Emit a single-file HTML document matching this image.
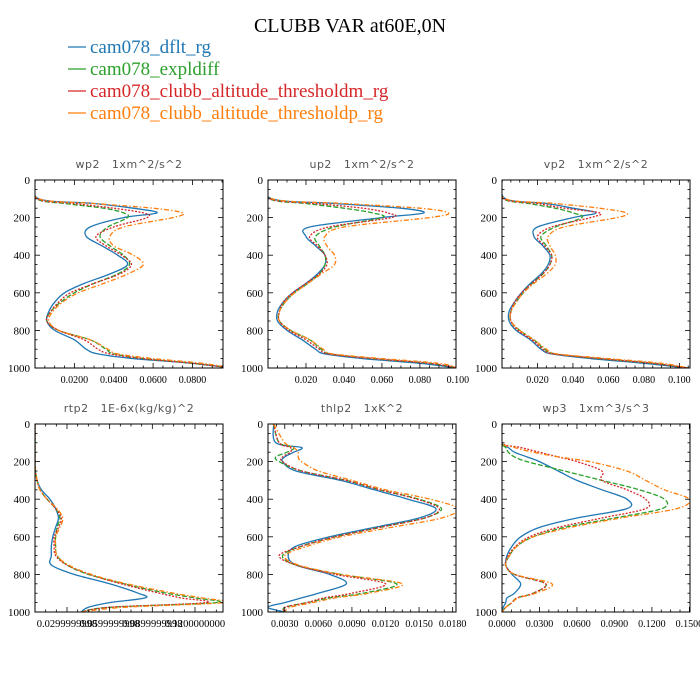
<!DOCTYPE html>
<html><head><meta charset="utf-8"><style>
body{margin:0;background:#fff;}
svg{display:block;}
.pt{white-space:pre;}
</style></head><body>
<svg id="c" width="700" height="700" viewBox="0 0 700 700" xmlns="http://www.w3.org/2000/svg">
<text x="350" y="32" text-anchor="middle" font-family="Liberation Serif, serif" font-size="20">CLUBB VAR at60E,0N</text>
<g id="legend"></g>
<g id="panels"></g>
</svg>
<script>
const seriesNames = ["cam078_dflt_rg","cam078_expldiff","cam078_clubb_altitude_thresholdm_rg","cam078_clubb_altitude_thresholdp_rg"];
const levels = [0,100,125,150,175,200,250,300,350,400,450,500,550,600,650,700,750,800,850,900,925,950,975,1000];
const yTicks = [0,200,400,600,800,1000];

const wp2Blue = [0,0.002,0.03,0.05,0.062,0.045,0.028,0.026,0.034,0.042,0.047,0.038,0.025,0.015,0.01,0.007,0.006,0.01,0.02,0.026,0.032,0.05,0.08,0.1];
const wp2Green = [0,0.001,0.015,0.035,0.045,0.047,0.037,0.033,0.038,0.045,0.048,0.042,0.03,0.02,0.013,0.008,0.006,0.012,0.028,0.036,0.04,0.055,0.08,0.1];
const wp2Red = [0,0.001,0.02,0.04,0.055,0.057,0.04,0.031,0.036,0.044,0.049,0.043,0.03,0.018,0.012,0.008,0.006,0.012,0.025,0.032,0.038,0.055,0.08,0.1];
const wp2Orange = [0,0.002,0.03,0.06,0.075,0.07,0.045,0.038,0.04,0.05,0.055,0.047,0.035,0.022,0.014,0.009,0.007,0.012,0.028,0.037,0.042,0.06,0.085,0.1];

const up2Blue = [0,0.002,0.035,0.07,0.082,0.06,0.022,0.02,0.025,0.03,0.03,0.026,0.02,0.013,0.008,0.005,0.005,0.01,0.018,0.025,0.03,0.05,0.08,0.1];
const up2Green = [0,0.001,0.02,0.04,0.055,0.06,0.035,0.025,0.027,0.03,0.03,0.027,0.021,0.014,0.009,0.006,0.006,0.012,0.022,0.028,0.033,0.055,0.085,0.1];
const up2Red = [0,0.001,0.025,0.05,0.063,0.065,0.032,0.022,0.026,0.03,0.031,0.027,0.02,0.013,0.008,0.006,0.006,0.011,0.02,0.027,0.032,0.055,0.085,0.1];
const up2Orange = [0,0.002,0.04,0.08,0.095,0.085,0.04,0.03,0.031,0.035,0.035,0.028,0.021,0.014,0.009,0.006,0.006,0.012,0.022,0.029,0.034,0.06,0.09,0.1];

const vp2Blue = [0,0.002,0.025,0.04,0.053,0.04,0.02,0.018,0.023,0.027,0.026,0.022,0.016,0.011,0.007,0.004,0.004,0.008,0.016,0.022,0.028,0.05,0.08,0.105];
const vp2Green = [0,0.001,0.015,0.03,0.04,0.045,0.03,0.022,0.025,0.028,0.027,0.023,0.017,0.012,0.008,0.005,0.005,0.01,0.018,0.024,0.03,0.055,0.085,0.105];
const vp2Red = [0,0.001,0.02,0.035,0.055,0.05,0.028,0.02,0.024,0.028,0.027,0.023,0.017,0.011,0.007,0.005,0.005,0.009,0.017,0.023,0.029,0.055,0.085,0.105];
const vp2Orange = [0,0.002,0.03,0.055,0.07,0.065,0.035,0.026,0.027,0.03,0.03,0.025,0.018,0.012,0.008,0.005,0.005,0.01,0.018,0.025,0.031,0.06,0.09,0.105];

const rtp2Blue = [0.0075,0.0075,0.0075,0.0075,0.0075,0.0075,0.0078,0.009,0.012,0.018,0.022,0.024,0.022,0.02,0.019,0.019,0.019,0.035,0.06,0.08,0.085,0.06,0.045,0.04];
const rtp2Green = [0.0075,0.0075,0.0075,0.0075,0.0075,0.0075,0.0078,0.009,0.011,0.016,0.022,0.025,0.023,0.022,0.022,0.023,0.03,0.045,0.07,0.1,0.12,0.135,0.06,0.04];
const rtp2Red = [0.0075,0.0075,0.0075,0.0075,0.0075,0.0075,0.0078,0.009,0.011,0.016,0.022,0.026,0.024,0.021,0.021,0.022,0.03,0.046,0.068,0.095,0.11,0.128,0.06,0.04];
const rtp2Orange = [0.0075,0.0075,0.0075,0.0075,0.0075,0.0075,0.0078,0.009,0.011,0.016,0.023,0.027,0.025,0.022,0.022,0.023,0.031,0.047,0.072,0.105,0.125,0.14,0.07,0.04];

const thlp2Blue = [0.002,0.0022,0.0045,0.0038,0.003,0.0028,0.004,0.008,0.011,0.014,0.0165,0.015,0.011,0.007,0.004,0.0033,0.004,0.007,0.0085,0.006,0.0045,0.003,0.0015,0.003];
const thlp2Green = [0.002,0.0025,0.0038,0.0032,0.0022,0.0025,0.0045,0.0085,0.0115,0.015,0.017,0.0155,0.0115,0.0075,0.0045,0.0028,0.004,0.008,0.013,0.01,0.007,0.005,0.003,0.003];
const thlp2Red = [0.002,0.0025,0.0035,0.0035,0.0028,0.0028,0.0045,0.0085,0.0115,0.0148,0.0168,0.0155,0.0115,0.0075,0.0045,0.0025,0.004,0.0075,0.012,0.009,0.0065,0.005,0.003,0.003];
const thlp2Orange = [0.002,0.003,0.0038,0.0042,0.0042,0.0045,0.006,0.009,0.012,0.016,0.0185,0.017,0.0125,0.008,0.005,0.003,0.0042,0.008,0.0135,0.0105,0.0075,0.0055,0.0035,0.003];

const wp3Blue = [0,0,0.005,0.01,0.02,0.03,0.045,0.06,0.08,0.1,0.1,0.06,0.03,0.015,0.008,0.004,0.003,0.008,0.015,0.01,0.004,0.003,0.001,0];
const wp3Green = [0,0,0.003,0.005,0.01,0.02,0.05,0.08,0.11,0.13,0.128,0.09,0.05,0.025,0.012,0.006,0.003,0.01,0.035,0.025,0.012,0.008,0.003,0];
const wp3Red = [0,0,0.015,0.03,0.045,0.06,0.08,0.08,0.1,0.115,0.115,0.08,0.045,0.022,0.011,0.005,0.003,0.01,0.035,0.025,0.012,0.008,0.003,0];
const wp3Orange = [0,0,0.01,0.025,0.045,0.07,0.1,0.115,0.13,0.15,0.14,0.095,0.055,0.025,0.012,0.006,0.003,0.01,0.04,0.027,0.013,0.008,0.003,0];

const wp2Ticks = [0.02,0.04,0.06,0.08], wp2TickLabels = ["0.0200","0.0400","0.0600","0.0800"];
const up2Ticks = [0.02,0.04,0.06,0.08,0.1], up2TickLabels = ["0.020","0.040","0.060","0.080","0.100"];
const vp2Ticks = [0.02,0.04,0.06,0.08,0.1], vp2TickLabels = ["0.020","0.040","0.060","0.080","0.100"];
const rtp2Ticks = [0.03,0.06,0.09,0.12], rtp2TickLabels = ["0.0299999998","0.0599999998","0.0899999998","0.1200000000"];
const thlp2Ticks = [0.003,0.006,0.009,0.012,0.015,0.018], thlp2TickLabels = ["0.0030","0.0060","0.0090","0.0120","0.0150","0.0180"];
const wp3Ticks = [0,0.03,0.06,0.09,0.12,0.15], wp3TickLabels = ["0.0000","0.0300","0.0600","0.0900","0.1200","0.1500"];

const colors = ["#1f77b4","#2ca02c","#d62728","#ff7f0e"];
const dashes = ["", "5,2", "2,1.5", "5,2,1.5,2"];
const NS = "http://www.w3.org/2000/svg";
const svg = document.getElementById('c');

function mk(tag, attrs, parent){const e=document.createElementNS(NS,tag);for(const k in attrs)e.setAttribute(k,attrs[k]);parent.appendChild(e);return e;}

const lg = document.getElementById('legend');
seriesNames.forEach((n,i)=>{
  const y = 47 + i*22;
  const g = mk('g',{},lg);
  
  
  mk('line',{x1:68,x2:86,y1:y,y2:y,stroke:colors[i],'stroke-width':1.3},g);
  const t = mk('text',{x:90,y:y+6,fill:colors[i],'font-family':'Liberation Serif, serif','font-size':19},g);
  t.textContent = n;
});

function smooth(pts){
  let d = "M"+pts[0][0].toFixed(2)+","+pts[0][1].toFixed(2);
  for(let i=0;i<pts.length-1;i++){
    const p0=pts[Math.max(0,i-1)],p1=pts[i],p2=pts[i+1],p3=pts[Math.min(pts.length-1,i+2)];
    const c1=[p1[0]+(p2[0]-p0[0])/6,p1[1]+(p2[1]-p0[1])/6];
    const c2=[p2[0]-(p3[0]-p1[0])/6,p2[1]-(p3[1]-p1[1])/6];
    d+=" C"+c1[0].toFixed(2)+","+c1[1].toFixed(2)+" "+c2[0].toFixed(2)+","+c2[1].toFixed(2)+" "+p2[0].toFixed(2)+","+p2[1].toFixed(2);
  }
  return d;
}

const panels = [
 {name:"wp2",title:"wp2   1xm^2/s^2",x0:0,x1:0.0955,ticks:wp2Ticks,labels:wp2TickLabels,series:[wp2Blue,wp2Green,wp2Red,wp2Orange],l:35,t:180},
 {name:"up2",title:"up2   1xm^2/s^2",x0:0,x1:0.099,ticks:up2Ticks,labels:up2TickLabels,series:[up2Blue,up2Green,up2Red,up2Orange],l:268,t:180},
 {name:"vp2",title:"vp2   1xm^2/s^2",x0:0,x1:0.106,ticks:vp2Ticks,labels:vp2TickLabels,series:[vp2Blue,vp2Green,vp2Red,vp2Orange],l:502,t:180},
 {name:"rtp2",title:"rtp2   1E-6x(kg/kg)^2",x0:0.0075,x1:0.1397,ticks:rtp2Ticks,labels:rtp2TickLabels,series:[rtp2Blue,rtp2Green,rtp2Red,rtp2Orange],l:35,t:424},
 {name:"thlp2",title:"thlp2   1xK^2",x0:0.0015,x1:0.0183,ticks:thlp2Ticks,labels:thlp2TickLabels,series:[thlp2Blue,thlp2Green,thlp2Red,thlp2Orange],l:268,t:424},
 {name:"wp3",title:"wp3   1xm^3/s^3",x0:0,x1:0.1505,ticks:wp3Ticks,labels:wp3TickLabels,series:[wp3Blue,wp3Green,wp3Red,wp3Orange],l:502,t:424}
];
const W=188,H=188;
const root = document.getElementById('panels');
panels.forEach((p,pi)=>{
  const g = mk('g',{},root);
  
  
  const xs = v => p.l + (v-p.x0)/(p.x1-p.x0)*W;
  const ys = v => p.t + v/1000*H;
  const tt = mk('text',{x:p.l+W/2,y:p.t-12,'text-anchor':'middle','font-family':'DejaVu Sans, sans-serif','font-size':11,fill:'#555','letter-spacing':'0.5',class:'pt'},g);
  
  
  tt.textContent = p.title;
  mk('clipPath',{id:'clip'+pi},g).appendChild(document.createElementNS(NS,'rect'));
  const cr = g.querySelector('#clip'+pi+' rect');
  cr.setAttribute('x',p.l);cr.setAttribute('y',p.t);cr.setAttribute('width',W);cr.setAttribute('height',H);
  const sg = mk('g',{'clip-path':'url(#clip'+pi+')'},g);
  p.series.forEach((vals,si)=>{
    const pts = vals.map((v,i)=>[xs(v),ys(levels[i])]);
    const path = mk('path',{d:smooth(pts),fill:'none',stroke:colors[si],'stroke-width':1.3},sg);
    if(dashes[si]) path.setAttribute('stroke-dasharray',dashes[si]);
    
    
  });
  const fr = mk('rect',{x:p.l,y:p.t,width:W,height:H,fill:'none',stroke:'#000','stroke-width':1},g);
  
  
  for(let v=0;v<=1000;v+=50){
    const len = v%200===0?5:2.5;
    mk('line',{x1:p.l,x2:p.l+len,y1:ys(v),y2:ys(v),stroke:'#000','stroke-width':0.8},g);
    mk('line',{x1:p.l+W,x2:p.l+W-len,y1:ys(v),y2:ys(v),stroke:'#000','stroke-width':0.8},g);
  }
  yTicks.forEach(v=>{
    const t = mk('text',{x:p.l-5,y:ys(v)+4,'text-anchor':'end','font-family':'Liberation Serif, serif','font-size':11},g);
    
    
    t.textContent = v;
  });
  const step = p.ticks.length>1 ? p.ticks[1]-p.ticks[0] : 0.01;
  for(let v=p.ticks[0]-step*5; v<=p.x1+1e-9; v+=step/4){
    if(v<p.x0-1e-9) continue;
    const major = Math.abs(((v-p.ticks[0])/step) - Math.round((v-p.ticks[0])/step))<1e-6;
    const len = major?5:2.5;
    mk('line',{x1:xs(v),x2:xs(v),y1:p.t+H,y2:p.t+H-len,stroke:'#000','stroke-width':0.8},g);
    mk('line',{x1:xs(v),x2:xs(v),y1:p.t,y2:p.t+len,stroke:'#000','stroke-width':0.8},g);
  }
  p.ticks.forEach((v,i)=>{
    const t = mk('text',{x:xs(v),y:p.t+H+15,'text-anchor':'middle','font-family':'Liberation Serif, serif','font-size':p.name==='rtp2'?10.5:10},g);
    
    
    t.textContent = p.labels[i];
  });
});
</script>
</body></html>
